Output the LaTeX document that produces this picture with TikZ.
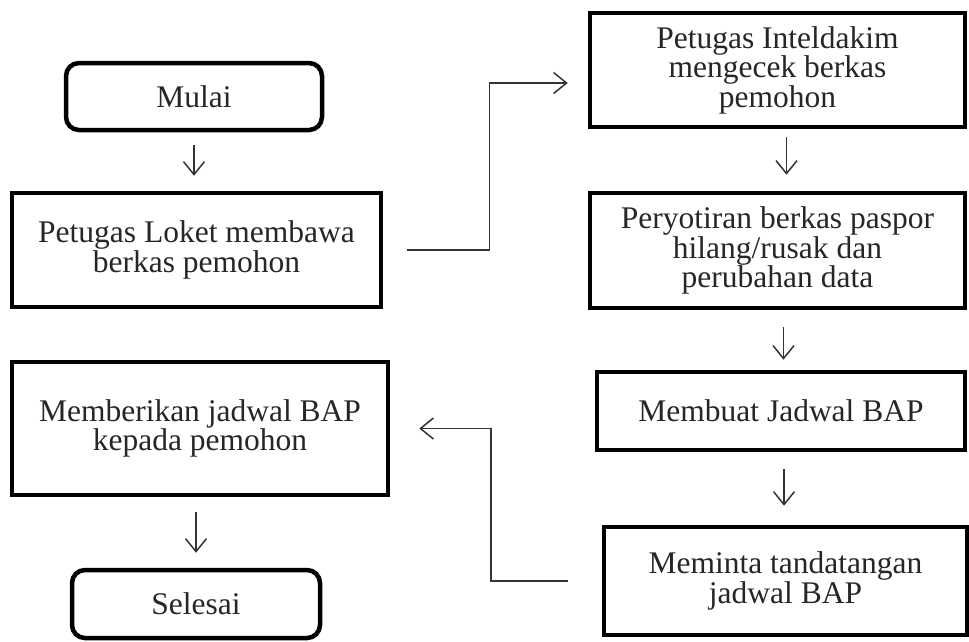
\documentclass[tikz,border=0pt]{standalone}
\usepackage{fontspec}
\setmainfont{Liberation Serif}
\usetikzlibrary{arrows.meta, positioning}

\begin{document}
\begin{tikzpicture}[
    x=1pt, y=-1pt,
    % Gaya node
    base/.style = {draw=black, line width=4.5pt, align=center, text=black!85, inner sep=0pt,
                   font=\fontsize{31.5}{29.5}\selectfont},
    terminal/.style = {base, rectangle, rounded corners=13pt},
    proses/.style = {base, rectangle},
    panah/.style = {line width=1.5pt, color=black!80, -{Straight Barb[length=13pt, width=21pt]}}
]
\useasboundingbox (0,0) rectangle (969,641);

% ===============================
% 1. Kolom kiri
% ===============================
\node (mulai) [terminal, minimum width=256pt, minimum height=67pt] at (194,96.5) {Mulai};
\node (loket) [proses, minimum width=369pt, minimum height=114pt] at (196.5,250) {Petugas Loket membawa\\ berkas pemohon};
\node (beri) [proses, minimum width=376pt, minimum height=133pt] at (200,428.5) {Memberikan jadwal BAP\\ kepada pemohon};
\node (selesai) [terminal, minimum width=248pt, minimum height=68pt] at (196,604) {Selesai};

% ===============================
% 2. Kolom kanan
% ===============================
\node (cek) [proses, minimum width=375pt, minimum height=114pt] at (777.5,70) {Petugas Inteldakim\\ mengecek berkas\\ pemohon};
\node (sortir) [proses, minimum width=375pt, minimum height=115pt] at (777.5,250.5) {Peryotiran berkas paspor\\ hilang/rusak dan\\ perubahan data};
\node (jadwal) [proses, minimum width=368pt, minimum height=78pt] at (781,411) {Membuat Jadwal BAP};
\node (ttd) [proses, minimum width=363pt, minimum height=108pt] at (785.5,581) {Meminta tandatangan\\ jadwal BAP};

% ===============================
% 3. Panah
% ===============================
\draw [panah, shorten <=13pt, shorten >=15pt] (mulai.south) -- (mulai.south |- loket.north);
\draw [panah, shorten <=24pt, shorten >=20pt] (loket.east) -- ++(106,0) |- ([yshift=-13pt]cek.west);
\draw [panah, shorten <=8pt, shorten >=16pt] ([xshift=9pt]cek.south) -- ([xshift=9pt]cek.south |- sortir.north);
\draw [panah, shorten <=17pt, shorten >=10pt] ([xshift=6pt]sortir.south) -- ([xshift=6pt]sortir.south |- jadwal.north);
\draw [panah, shorten <=17pt, shorten >=19pt] ([xshift=3pt]jadwal.south) -- ([xshift=3pt]jadwal.south |- ttd.north);
\draw [panah, shorten <=34pt, shorten >=29pt] (ttd.west) -- ++(-111,0) |- (beri.east);
\draw [panah, shorten <=15pt, shorten >=15pt] (selesai.north |- beri.south) -- (selesai.north);

\end{tikzpicture}
\end{document}
